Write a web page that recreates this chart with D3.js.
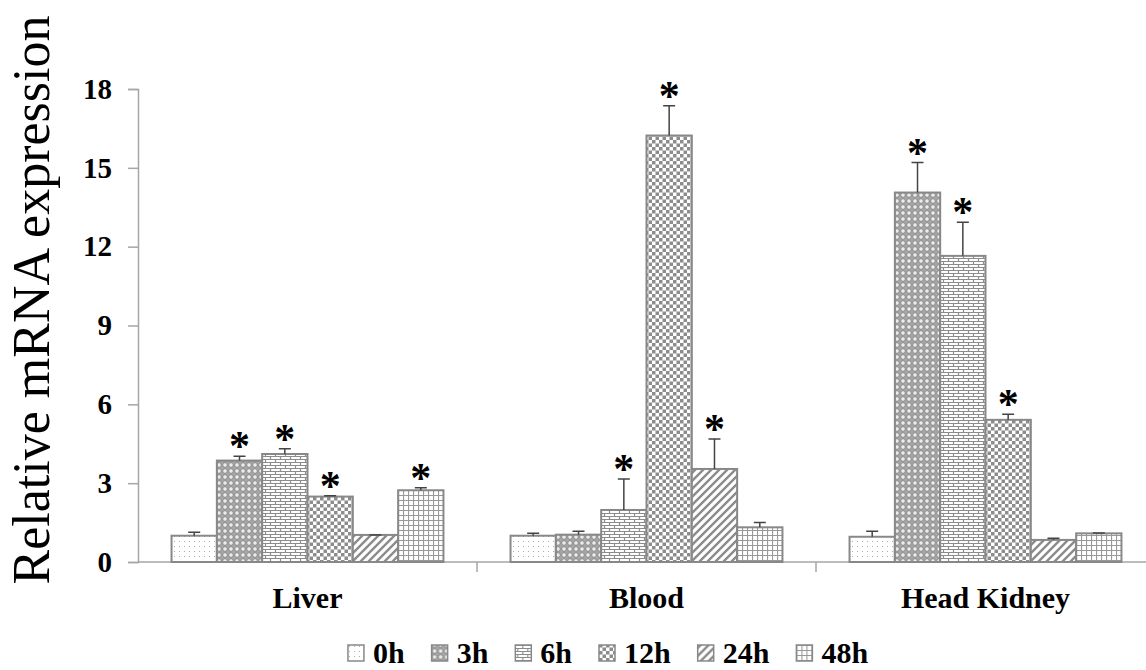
<!DOCTYPE html>
<html>
<head>
<meta charset="utf-8">
<script src="https://cdn.jsdelivr.net/npm/d3@7"></script>
<style>
  html,body{margin:0;padding:0;background:#fff;}
  svg{display:block;font-family:"Liberation Serif","Times New Roman",serif;}
</style>
</head>
<body>
<div id="chart"></div>
<script>
// --- data ---
const categories = ["Liver", "Blood", "Head Kidney"];
const series = ["0h", "3h", "6h", "12h", "24h", "48h"];
const yTicks = [0, 3, 6, 9, 12, 15, 18];

const liverMean  = [1.00, 3.86, 4.11, 2.49, 1.03, 2.73];
const bloodMean  = [1.00, 1.04, 1.98, 16.23, 3.54, 1.32];
const kidneyMean = [0.96, 14.06, 11.65, 5.41, 0.84, 1.09];

const liverErr  = [0.13, 0.16, 0.20, 0.03, 0.00, 0.10];
const bloodErr  = [0.09, 0.13, 1.18, 1.13, 1.14, 0.18];
const kidneyErr = [0.21, 1.14, 1.28, 0.21, 0.06, 0.01];

const liverSig  = [0, 1, 1, 1, 0, 1];
const bloodSig  = [0, 0, 1, 1, 1, 0];
const kidneySig = [0, 1, 1, 1, 0, 0];

const means = [liverMean, bloodMean, kidneyMean];
const errs  = [liverErr, bloodErr, kidneyErr];
const sigs  = [liverSig, bloodSig, kidneySig];

const W = 1146, H = 670;
const GREY = '#888', AXIS = '#a6a6a6';

const svg = d3.select('#chart').append('svg').attr('width', W).attr('height', H);
const defs = svg.append('defs');

// fill patterns, one per time point
function pat(id, w, h, build){
  const p = defs.append('pattern').attr('id', id).attr('patternUnits', 'userSpaceOnUse')
    .attr('width', w).attr('height', h);
  p.append('rect').attr('width', w).attr('height', h).attr('fill', '#fff');
  build(p);
}
pat('p0', 5, 5, p => {
  p.append('rect').attr('x', 1).attr('y', 1).attr('width', 1).attr('height', 1).attr('fill', '#aaa');
});
pat('p1', 6, 6, p => {
  p.select('rect').attr('fill', '#a6a6a6');
  p.append('circle').attr('cx', 3).attr('cy', 3).attr('r', 2.3).attr('fill', '#ececec').attr('stroke', '#808080').attr('stroke-width', 0.8);
});
pat('p2', 10, 6, p => {
  p.append('path').attr('d', 'M0,0.5H10M0,3.5H10M2.5,0V3M7.5,3V6').attr('stroke', '#8c8c8c').attr('stroke-width', 1.2).attr('fill', 'none');
});
pat('p3', 7, 7, p => {
  p.append('rect').attr('width', 3.5).attr('height', 3.5).attr('fill', '#8c8c8c');
  p.append('rect').attr('x', 3.5).attr('y', 3.5).attr('width', 3.5).attr('height', 3.5).attr('fill', '#8c8c8c');
});
pat('p4', 8, 8, p => {
  p.append('path').attr('d', 'M-2,10L10,-2M-6,6L6,-6M2,14L14,2').attr('stroke', '#8c8c8c').attr('stroke-width', 2.4);
});
pat('p5', 5, 5, p => {
  p.append('path').attr('d', 'M0,0.5H5M0.5,0V5').attr('stroke', '#999').attr('stroke-width', 1.2);
});
const fillOf = i => `url(#p${i})`;

// scales
const x0 = d3.scaleBand().domain(categories).range([138, 1155]);
const x1 = d3.scaleBand().domain(series).range([0, x0.bandwidth()]).paddingOuter(0.74);
const y = d3.scaleLinear().domain([0, 18]).range([562, 89]);

// y axis
const yAxis = svg.append('g').attr('transform', 'translate(138,0)')
  .call(d3.axisLeft(y).tickValues(yTicks).tickSize(10).tickSizeOuter(10).tickPadding(16));
yAxis.selectAll('path,line').attr('stroke', AXIS).attr('stroke-width', 1.5);
yAxis.selectAll('text').attr('font-size', 29).attr('font-weight', 'bold')
  .attr('font-family', '"Liberation Serif",serif').attr('fill', '#000');

// x axis line + group separators
svg.append('line').attr('x1', 138).attr('x2', 1155).attr('y1', y(0)).attr('y2', y(0))
  .attr('stroke', AXIS).attr('stroke-width', 1.5);
svg.selectAll('.sep').data(categories.slice(1)).join('line')
  .attr('x1', d => x0(d)).attr('x2', d => x0(d)).attr('y1', y(0)).attr('y2', y(0) + 10)
  .attr('stroke', AXIS).attr('stroke-width', 1.5);
svg.selectAll('.cat').data(categories).join('text')
  .attr('x', d => x0(d) + x0.bandwidth() / 2).attr('y', 608)
  .attr('text-anchor', 'middle').attr('font-size', 30).attr('font-weight', 'bold').text(d => d);

// axis title
svg.append('text').attr('transform', 'translate(49,300) rotate(-90)')
  .attr('text-anchor', 'middle').attr('font-size', 52).text('Relative mRNA expression');

// bars
const groups = svg.selectAll('.grp').data(categories).join('g')
  .attr('transform', d => `translate(${x0(d)},0)`);
groups.each(function(cat, ci){
  const g = d3.select(this);
  const rows = series.map((s, i) => ({s, i, v: means[ci][i], e: errs[ci][i], sig: sigs[ci][i]}));
  g.selectAll('rect').data(rows).join('rect')
    .attr('x', d => x1(d.s)).attr('width', x1.bandwidth())
    .attr('y', d => y(d.v)).attr('height', d => y(0) - y(d.v))
    .attr('fill', d => fillOf(d.i)).attr('stroke', GREY).attr('stroke-width', 2);
  const cx = d => x1(d.s) + x1.bandwidth() / 2;
  g.selectAll('.eb').data(rows).join('path')
    .attr('d', d => `M${cx(d)},${y(d.v)}V${y(d.v + d.e)}M${cx(d) - 6},${y(d.v + d.e)}H${cx(d) + 6}`)
    .attr('stroke', '#444').attr('stroke-width', 1.5).attr('fill', 'none');
  g.selectAll('.star').data(rows.filter(d => d.sig)).join('text')
    .attr('x', cx).attr('y', d => y(d.v + d.e) + 4)
    .attr('text-anchor', 'middle').attr('font-size', 42).attr('font-weight', 'bold').text('*');
});

// legend
const leg = svg.append('g');
let lx = 0;
series.forEach((s, i) => {
  const it = leg.append('g').attr('transform', `translate(${lx},0)`);
  it.append('rect').attr('x', 0).attr('y', 645).attr('width', 16).attr('height', 16)
    .attr('fill', fillOf(i)).attr('stroke', GREY).attr('stroke-width', 1.5);
  const t = it.append('text').attr('x', 25).attr('y', 663).attr('font-size', 30)
    .attr('font-weight', 'bold').text(s);
  lx += 25 + t.node().getComputedTextLength() + 27;
});
const legW = lx - 27;
leg.attr('transform', `translate(${608 - legW / 2},0)`);
</script>
</body>
</html>
